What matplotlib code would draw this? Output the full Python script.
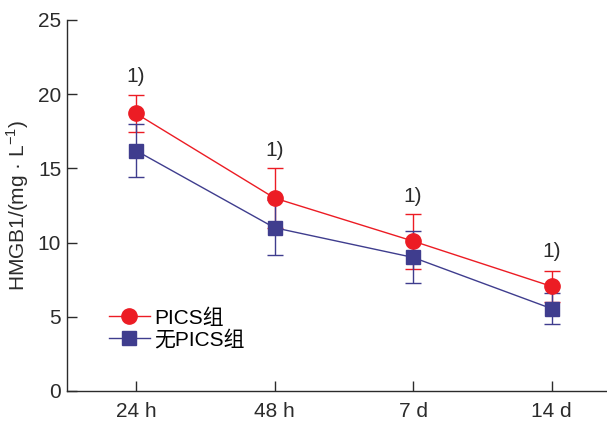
import matplotlib
matplotlib.use("Agg")
import matplotlib.pyplot as plt
from matplotlib.lines import Line2D

plt.rcParams['font.family'] = ['Liberation Sans', 'Noto Sans CJK SC', 'DejaVu Sans']
plt.rcParams['mathtext.fontset'] = 'custom'
plt.rcParams['mathtext.rm'] = 'Liberation Sans'

# data
times = ["24 h", "48 h", "7 d", "14 d"]
pics_mean = [18.7, 13.0, 10.1, 7.05]
pics_err = [1.22, 2.05, 1.85, 1.05]
nopics_mean = [16.2, 11.0, 9.0, 5.55]
nopics_err = [1.78, 1.87, 1.75, 1.02]
sig_labels = ["1)", "1)", "1)", "1)"]
sig_y = [21.2, 16.2, 13.1, 9.4]

red = '#EC1C24'
blue = '#3F3D8E'
dark = '#2b2b2b'
fs = 15

fig = plt.figure(figsize=(6.07, 4.21), dpi=100)
ax = fig.add_axes([0.110, 0.0713, 0.89, 0.8812])

x = list(range(len(times)))
ax.errorbar(x, pics_mean, yerr=pics_err, color=red, marker='o', markersize=11,
            linewidth=1.0, elinewidth=1.0, capsize=5.5, capthick=1.0)
ax.errorbar(x, nopics_mean, yerr=nopics_err, color=blue, marker='s', markersize=10.5,
            linewidth=1.0, elinewidth=1.0, capsize=5.5, capthick=1.0)

for xi, yi, s in zip(x, sig_y, sig_labels):
    ax.text(xi, yi, s, ha='center', va='center', fontsize=fs, color=dark)

ax.set_xlim(-0.5, 3.4)
ax.set_ylim(0, 25)
ax.set_yticks([0, 5, 10, 15, 20, 25])
ax.set_xticks(x)
ax.set_xticklabels(times)
ax.set_ylabel('HMGB1/(mg · L$^{-1}$)', fontsize=fs, color=dark, labelpad=5)

for side in ['top', 'right']:
    ax.spines[side].set_visible(False)
for side in ['left', 'bottom']:
    ax.spines[side].set_linewidth(1.0)
    ax.spines[side].set_color(dark)
ax.tick_params(direction='in', length=7, width=1.0, color=dark, labelsize=fs,
               labelcolor=dark)
ax.tick_params(axis='x', pad=8)
ax.tick_params(axis='y', pad=4)

handles = [Line2D([], [], color=red, marker='o', markersize=11, linewidth=1.0),
           Line2D([], [], color=blue, marker='s', markersize=10.5, linewidth=1.0)]
ax.legend(handles, ['PICS组', '无PICS组'], loc='upper left',
          bbox_to_anchor=(0.062, 0.246), frameon=False, fontsize=fs,
          handlelength=2.0, handletextpad=0.2, labelspacing=0.1, borderaxespad=0)

fig.savefig('out.png', dpi=100)
